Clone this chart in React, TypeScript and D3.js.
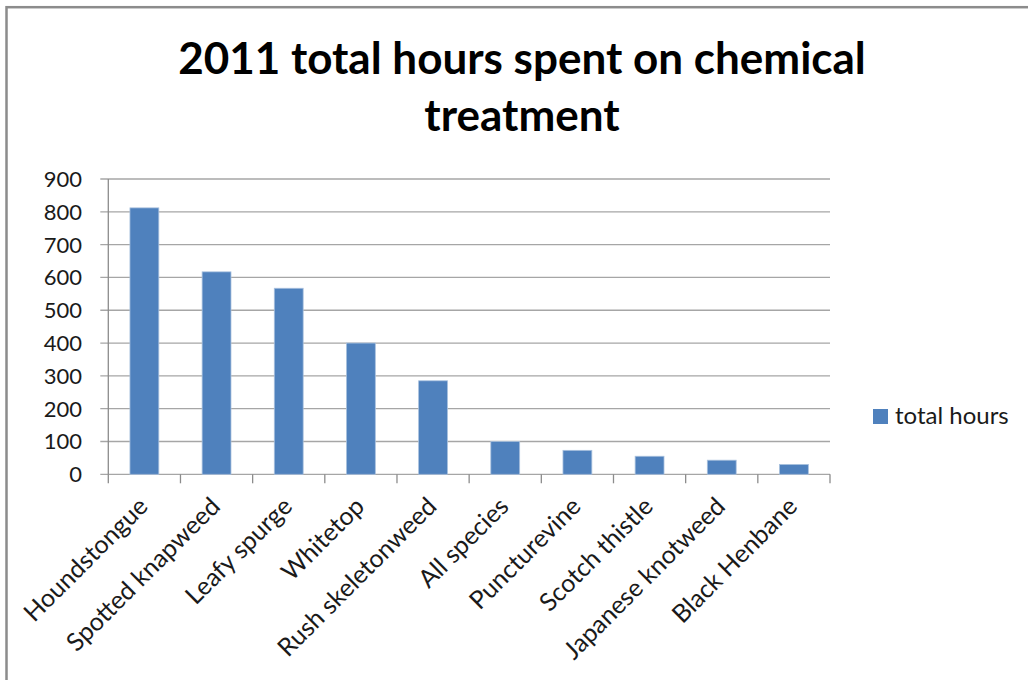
import React from "react";
import * as d3 from "d3";

// Weed species and the hours of chemical treatment logged for each in 2011
const species: string[] = [
  "Houndstongue",
  "Spotted knapweed",
  "Leafy spurge",
  "Whitetop",
  "Rush skeletonweed",
  "All species",
  "Puncturevine",
  "Scotch thistle",
  "Japanese knotweed",
  "Black Henbane",
];
const totalHours: number[] = [812, 617, 567, 400, 285, 100, 73, 55, 43, 30];
const yTicks: number[] = [0, 100, 200, 300, 400, 500, 600, 700, 800, 900];

const titleLines: string[] = ["2011 total hours spent on chemical", "treatment"];
const seriesName = "total hours";

const W = 1028;
const H = 680;
const plot = { left: 108.3, right: 830, top: 179, bottom: 474.3 };
const FONT = "Lato, 'Open Sans', sans-serif";
const BAR = "#4F81BD";

export default function App() {
  const x = d3
    .scaleBand<string>()
    .domain(species)
    .range([plot.left, plot.right])
    .paddingInner(0.6)
    .paddingOuter(0.3);
  const y = d3.scaleLinear().domain([0, 900]).range([plot.bottom, plot.top]);
  const step = x.step();
  const boundaries = d3.range(species.length + 1).map((i) => plot.left + i * step);

  return (
    <div style={{ position: "absolute", left: 0, top: 0 }}>
      <svg width={W} height={H} style={{ display: "block", background: "#fff" }}>
        {/* chart frame */}
        <rect x={6.5} y={7.2} width={W + 20} height={H + 20} fill="#fff" stroke="#8c8c8c" strokeWidth={2.5} />

        {/* title */}
        {titleLines.map((t, i) => (
          <text
            key={t}
            x={522}
            y={74 + i * 57}
            textAnchor="middle"
            fontFamily={FONT}
            fontWeight={700}
            fontSize={44}
            fill="#000"
          >
            {t}
          </text>
        ))}

        {/* horizontal gridlines */}
        {yTicks.map((v) => (
          <line
            key={`g${v}`}
            x1={plot.left - 8}
            x2={plot.right}
            y1={y(v)}
            y2={y(v)}
            stroke="#a6a6a6"
            strokeWidth={1.3}
          />
        ))}

        {/* value axis line */}
        <line x1={plot.left} x2={plot.left} y1={plot.top} y2={plot.bottom} stroke="#8c8c8c" strokeWidth={1.3} />

        {/* category tick marks */}
        {boundaries.map((bx, i) => (
          <line key={`t${i}`} x1={bx} x2={bx} y1={plot.bottom} y2={plot.bottom + 9} stroke="#8c8c8c" strokeWidth={1.3} />
        ))}

        {/* y tick labels */}
        {yTicks.map((v) => (
          <text
            key={`l${v}`}
            x={82}
            y={y(v)}
            dy="0.36em"
            textAnchor="end"
            fontFamily={FONT}
            fontSize={22}
            fill="#1a1a1a"
          >
            {v}
          </text>
        ))}

        {/* bars */}
        {species.map((s, i) => (
          <rect
            key={s}
            x={x(s)}
            y={y(totalHours[i])}
            width={x.bandwidth()}
            height={y(0) - y(totalHours[i])}
            fill={BAR}
            stroke="#a9c1de"
            strokeWidth={0.8}
          />
        ))}

        {/* category labels, rotated */}
        {species.map((s) => {
          const cx = (x(s) as number) + x.bandwidth() / 2 + 5;
          const cy = 508;
          return (
            <text
              key={`c${s}`}
              transform={`translate(${cx},${cy}) rotate(-45)`}
              textAnchor="end"
              fontFamily={FONT}
              fontSize={25}
              fill="#1a1a1a"
            >
              {s}
            </text>
          );
        })}

        {/* legend */}
        <rect x={873} y={409} width={15} height={15} fill={BAR} />
        <text x={895} y={424} fontFamily={FONT} fontSize={24} fill="#1a1a1a">
          {seriesName}
        </text>
      </svg>
    </div>
  );
}
